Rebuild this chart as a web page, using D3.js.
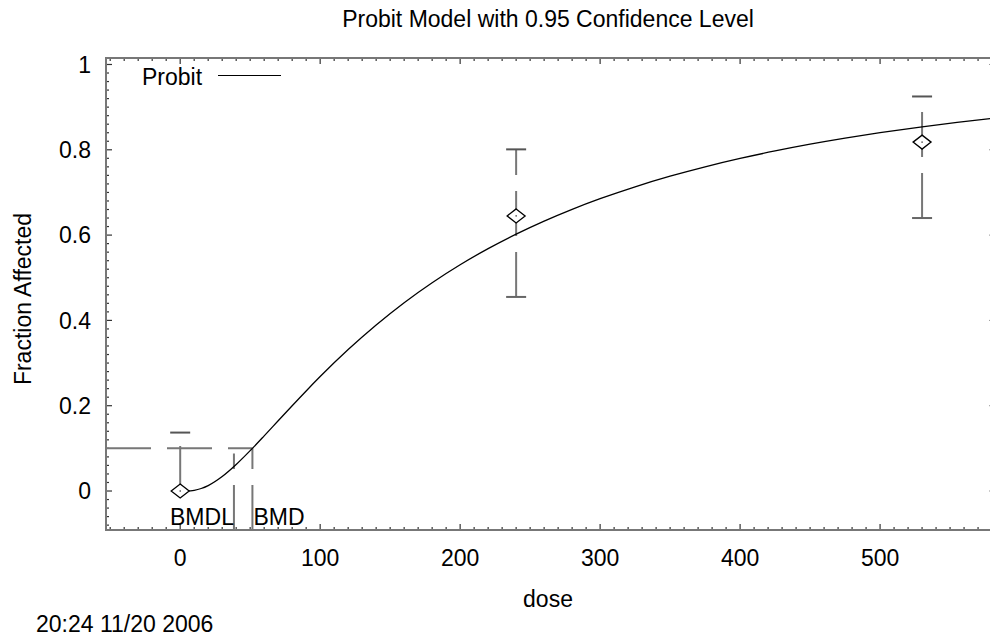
<!DOCTYPE html>
<html><head><meta charset="utf-8">
<script src="https://cdn.jsdelivr.net/npm/d3@7"></script>
<style>
html,body{margin:0;padding:0;background:#fff;}
svg{display:block;}
text{font-family:"Liberation Sans",Arial,sans-serif;fill:#000;}
</style></head>
<body>
<svg id="chart" width="990" height="637"></svg>
<script>
// ---- data ----
const doses = [0, 240, 530];
const observed = [0, 0.645, 0.818];
const lowerCI = [0, 0.455, 0.640];
const upperCI = [0.137, 0.801, 0.925];

const curveDose = [0,5,10,15,20,30,40,50,60,70,80,90,100,120,140,160,180,200,220,240,260,280,300,325,350,375,400,425,450,475,500,530,555,582];
const curveFrac = [0,0.0001,0.0017,0.0059,0.0128,0.034,0.0622,0.0946,0.1292,0.1646,0.1999,0.2346,0.2683,0.3316,0.3893,0.4416,0.4884,0.5305,0.5683,0.6023,0.6329,0.6605,0.6854,0.7133,0.7381,0.7601,0.7797,0.7973,0.8131,0.8273,0.8401,0.8539,0.8642,0.8745];

const bmr = 0.1;
const bmd = 51.6;
const bmdl = 38.4;
const bmdlTop = 0.088;

const xTicks = [0, 100, 200, 300, 400, 500];
const yTicks = [0, 0.2, 0.4, 0.6, 0.8, 1];
const yTickLabels = ["0", "0.2", "0.4", "0.6", "0.8", "1"];

const titleText = "Probit Model with 0.95 Confidence Level";
const xTitle = "dose";
const yTitle = "Fraction Affected";
const legendLabel = "Probit";
const stamp = "20:24 11/20 2006";

// ---- layout ----
const L = 106, R = 995, T = 58, B = 530;
const svg = d3.select("#chart");
const x = d3.scaleLinear().domain([-53, 582.1]).range([L, R]);
const y = d3.scaleLinear().domain([-0.0914, 1.0152]).range([B, T]);

const axisColor = "#777";
const fs = 23;

const xMinor = d3.range(-50, 581, 10);
const yMinor = d3.range(-0.08, 1.011, 0.02);

const gAx = svg.append("g");
function isMajorX(v){return Math.abs(v % 100) < 1e-6;}
function isMajorY(v){return Math.abs(Math.round(v*5) - v*5) < 1e-6;}

gAx.selectAll(".bt").data(xMinor).join("line")
  .attr("x1", d => x(d)).attr("x2", d => x(d))
  .attr("y1", B).attr("y2", d => B - (isMajorX(d) ? 6 : 3))
  .attr("stroke", "#333").attr("stroke-width", 1.2);
gAx.selectAll(".tt").data(xMinor).join("line")
  .attr("x1", d => x(d)).attr("x2", d => x(d))
  .attr("y1", T).attr("y2", d => T + (isMajorX(d) ? 6 : 3))
  .attr("stroke", "#333").attr("stroke-width", 1.2);
gAx.selectAll(".lt").data(yMinor).join("line")
  .attr("x1", L).attr("x2", d => L + (isMajorY(d) ? 6 : 3))
  .attr("y1", d => y(d)).attr("y2", d => y(d))
  .attr("stroke", "#333").attr("stroke-width", 1.2);
gAx.selectAll(".rt").data(yMinor).join("line")
  .attr("x1", R).attr("x2", d => R - (isMajorY(d) ? 6 : 3))
  .attr("y1", d => y(d)).attr("y2", d => y(d))
  .attr("stroke", "#999").attr("stroke-width", 1);

gAx.append("rect").attr("x", L).attr("y", T).attr("width", R - L).attr("height", B - T)
  .attr("fill", "none").attr("stroke", axisColor).attr("stroke-width", 2);

svg.selectAll(".xl").data(xTicks).join("text")
  .attr("x", d => x(d)).attr("y", 566)
  .attr("text-anchor", "middle").attr("font-size", fs).text(d => d);
svg.selectAll(".yl").data(yTicks).join("text")
  .attr("x", 91).attr("y", d => y(d)).attr("dy", "0.36em")
  .attr("text-anchor", "end").attr("font-size", fs).text((d, i) => yTickLabels[i]);

svg.append("text").attr("x", 548).attr("y", 27).attr("text-anchor", "middle")
  .attr("font-size", fs).text(titleText);
svg.append("text").attr("x", 548).attr("y", 607).attr("text-anchor", "middle")
  .attr("font-size", fs).text(xTitle);
svg.append("text").attr("transform", "translate(31,299) rotate(-90)").attr("text-anchor", "middle")
  .attr("font-size", fs).text(yTitle);
svg.append("text").attr("x", 36).attr("y", 632).attr("font-size", fs).text(stamp);

const dash = "45,16";
const gB = svg.append("g").attr("stroke", "#777").attr("stroke-width", 2).attr("fill", "none");
gB.append("line").attr("x1", x.range()[0]).attr("x2", x(bmd)).attr("y1", y(bmr)).attr("y2", y(bmr))
  .attr("stroke-dasharray", dash);
gB.append("line").attr("x1", x(bmd)).attr("x2", x(bmd)).attr("y1", B).attr("y2", y(bmr))
  .attr("stroke-dasharray", dash);
gB.append("line").attr("x1", x(bmdl)).attr("x2", x(bmdl)).attr("y1", B).attr("y2", y(bmdlTop))
  .attr("stroke-dasharray", dash);

svg.append("text").attr("x", x(bmdl)).attr("y", 525).attr("text-anchor", "end")
  .attr("font-size", fs).text("BMDL");
svg.append("text").attr("x", x(bmd) + 1).attr("y", 525).attr("text-anchor", "start")
  .attr("font-size", fs).text("BMD");

const gE = svg.append("g");
doses.forEach((d, i) => {
  gE.append("line").attr("x1", x(d)).attr("x2", x(d))
    .attr("y1", y(lowerCI[i])).attr("y2", y(upperCI[i]))
    .attr("stroke", "#777").attr("stroke-width", 2).attr("stroke-dasharray", dash);
  gE.append("line").attr("x1", x(d) - 10).attr("x2", x(d) + 10)
    .attr("y1", y(upperCI[i])).attr("y2", y(upperCI[i]))
    .attr("stroke", "#555").attr("stroke-width", 2);
  if (lowerCI[i] > 0) {
    gE.append("line").attr("x1", x(d) - 10).attr("x2", x(d) + 10)
      .attr("y1", y(lowerCI[i])).attr("y2", y(lowerCI[i]))
      .attr("stroke", "#666").attr("stroke-width", 2);
  }
});

const pts = curveDose.map((d, i) => [d, curveFrac[i]]);
svg.append("clipPath").attr("id", "pc").append("rect")
  .attr("x", L).attr("y", T).attr("width", R - L).attr("height", B - T);
svg.append("path").datum(pts)
  .attr("clip-path", "url(#pc)")
  .attr("d", d3.line().x(p => x(p[0])).y(p => y(p[1])).curve(d3.curveMonotoneX))
  .attr("fill", "none").attr("stroke", "#000").attr("stroke-width", 1.3);

doses.forEach((d, i) => {
  const cx = x(d), cy = y(observed[i]);
  svg.append("path")
    .attr("d", `M${cx},${cy-7}L${cx+9},${cy}L${cx},${cy+7}L${cx-9},${cy}Z`)
    .attr("fill", "#fff").attr("stroke", "#000").attr("stroke-width", 1.3);
  svg.append("rect").attr("x", cx - 0.6).attr("y", cy - 0.6).attr("width", 1.2).attr("height", 1.2).attr("fill", "#000");
});

svg.append("text").attr("x", 142).attr("y", 85).attr("font-size", fs).text(legendLabel);
svg.append("line").attr("x1", 218).attr("x2", 281).attr("y1", 75.5).attr("y2", 75.5)
  .attr("stroke", "#000").attr("stroke-width", 1.2);
</script>
</body></html>
